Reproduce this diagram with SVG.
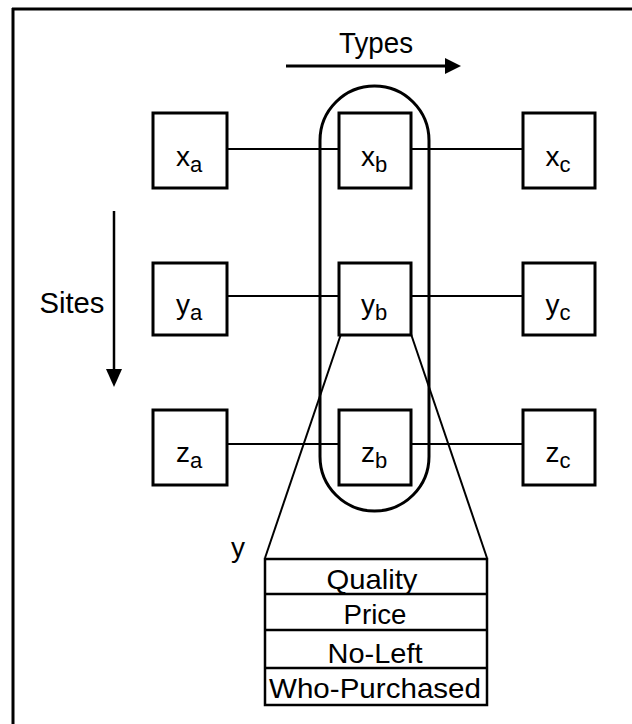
<svg xmlns="http://www.w3.org/2000/svg" width="632" height="724" viewBox="0 0 632 724">
<style>
.box{fill:#fff;stroke:#000;stroke-width:3}
.conn{stroke:#000;stroke-width:2;fill:none}
.lbl{font-family:"Liberation Sans",Arial,sans-serif;font-size:28px;fill:#000}
.sub{font-size:22px}
.big{font-family:"Liberation Sans",Arial,sans-serif;font-size:29px;fill:#000}
.cell{font-family:"Liberation Sans",Arial,sans-serif;font-size:28px;fill:#000}
</style>
<rect width="632" height="724" fill="#fff"/>
<g id="frame">
<line x1="12" y1="9" x2="632" y2="9" stroke="#000" stroke-width="3"/>
<line x1="13" y1="8" x2="13" y2="724" stroke="#000" stroke-width="3"/>
</g>
<g id="types-axis">
<text class="big" x="376" y="53" text-anchor="middle" textLength="74" lengthAdjust="spacingAndGlyphs">Types</text>
<line x1="286" y1="66" x2="446" y2="66" stroke="#000" stroke-width="3"/>
<path d="M445,58 L461,66 L445,74 z" fill="#000"/>
</g>
<g id="sites-axis">
<text class="big" x="72" y="313" text-anchor="middle" textLength="65" lengthAdjust="spacingAndGlyphs">Sites</text>
<line x1="114" y1="211" x2="114" y2="372" stroke="#000" stroke-width="2.5"/>
<path d="M106,369 L114,387 L122,369 z" fill="#000"/>
</g>
<g id="connectors">
<line class="conn" x1="227" y1="149" x2="339" y2="149"/>
<line class="conn" x1="411" y1="149" x2="523" y2="149"/>
<line class="conn" x1="227" y1="296" x2="339" y2="296"/>
<line class="conn" x1="411" y1="296" x2="523" y2="296"/>
<line class="conn" x1="227" y1="444" x2="339" y2="444"/>
<line class="conn" x1="411" y1="444" x2="523" y2="444"/>
<line class="conn" x1="341" y1="334" x2="265" y2="558"/>
<line class="conn" x1="411" y1="334" x2="487" y2="558"/>
</g>
<g id="group-b">
<rect x="320" y="86" width="109" height="425" rx="54.5" ry="54.5" fill="none" stroke="#000" stroke-width="3"/>
</g>
<g id="xa"><rect class="box" x="153" y="113" width="74" height="75"/><text class="lbl" x="189" y="166" text-anchor="middle">x<tspan class="sub" dy="6">a</tspan></text></g>
<g id="xb"><rect class="box" x="339" y="113" width="72" height="75"/><text class="lbl" x="374" y="166" text-anchor="middle">x<tspan class="sub" dy="6">b</tspan></text></g>
<g id="xc"><rect class="box" x="523" y="113" width="72" height="75"/><text class="lbl" x="558" y="166" text-anchor="middle">x<tspan class="sub" dy="6">c</tspan></text></g>
<g id="ya"><rect class="box" x="153" y="263" width="74" height="72"/><text class="lbl" x="189" y="314" text-anchor="middle">y<tspan class="sub" dy="6">a</tspan></text></g>
<g id="yb"><rect class="box" x="339" y="263" width="72" height="72"/><text class="lbl" x="374" y="314" text-anchor="middle">y<tspan class="sub" dy="6">b</tspan></text></g>
<g id="yc"><rect class="box" x="523" y="263" width="72" height="72"/><text class="lbl" x="558" y="314" text-anchor="middle">y<tspan class="sub" dy="6">c</tspan></text></g>
<g id="za"><rect class="box" x="153" y="410" width="74" height="75"/><text class="lbl" x="189" y="462" text-anchor="middle">z<tspan class="sub" dy="6">a</tspan></text></g>
<g id="zb"><rect class="box" x="339" y="410" width="72" height="75"/><text class="lbl" x="374" y="462" text-anchor="middle">z<tspan class="sub" dy="6">b</tspan></text></g>
<g id="zc"><rect class="box" x="523" y="410" width="72" height="75"/><text class="lbl" x="558" y="462" text-anchor="middle">z<tspan class="sub" dy="6">c</tspan></text></g>
<g id="record-y">
<text class="lbl" x="238" y="557" text-anchor="middle">y</text>
<rect x="265" y="559" width="222" height="146" fill="#fff" stroke="#000" stroke-width="2.5"/>
<line x1="265" y1="594" x2="487" y2="594" stroke="#000" stroke-width="2.5"/>
<line x1="265" y1="630" x2="487" y2="630" stroke="#000" stroke-width="2.5"/>
<line x1="265" y1="668" x2="487" y2="668" stroke="#000" stroke-width="2.5"/>
<text class="cell" x="372" y="589" text-anchor="middle" textLength="91" lengthAdjust="spacingAndGlyphs">Quality</text>
<text class="cell" x="375" y="624" text-anchor="middle" textLength="63" lengthAdjust="spacingAndGlyphs">Price</text>
<text class="cell" x="375" y="663" text-anchor="middle" textLength="95" lengthAdjust="spacingAndGlyphs">No-Left</text>
<text class="cell" x="375" y="698" text-anchor="middle" textLength="212" lengthAdjust="spacingAndGlyphs">Who-Purchased</text>
</g>
</svg>
